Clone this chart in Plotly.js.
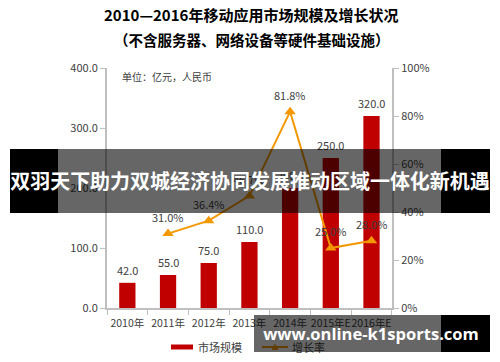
<!DOCTYPE html>
<html>
<head>
<meta charset="utf-8">
<script src="https://cdn.plot.ly/plotly-3.0.1.min.js"></script>
<style>
  html, body { margin: 0; padding: 0; background: #fff; }
  #wrap { position: relative; width: 500px; height: 362px; overflow: hidden; }
  #chart { position: absolute; left: 0; top: 0; width: 500px; height: 362px; }
  .ov { position: absolute; pointer-events: none; }
  .txt { position: absolute; white-space: nowrap; color: #fff; font-weight: bold; text-align: center; }
</style>
</head>
<body>
<div id="wrap">
  <div id="chart"></div>
  <!-- banner overlay -->
  <div class="ov" style="left:10px;top:149px;width:48px;height:64px;background:#000;"></div>
  <div class="ov" style="left:58px;top:149px;width:383px;height:64px;background:rgba(0,0,0,0.6);"></div>
  <div class="ov" style="left:441px;top:149px;width:49px;height:64px;background:#000;"></div>
  <div id="banner" class="ov txt" style="left:0px;top:149px;width:500px;height:64px;line-height:64px;font-size:19px;font-family:'Noto Sans CJK SC',sans-serif;">双羽天下助力双城经济协同发展推动区域一体化新机遇</div>
  <!-- watermark overlay -->
  <div class="ov" style="left:254px;top:315px;width:187px;height:37px;background:rgba(0,0,0,0.6);"></div>
  <div class="ov" style="left:441px;top:315px;width:49px;height:37px;background:#000;"></div>
  <div id="wm" class="ov txt" style="left:254px;top:315px;width:236px;height:37px;line-height:37px;font-size:16.5px;font-family:'Open Sans','DejaVu Sans',sans-serif;">www.online-k1sports.com</div>
</div>
<script>
// ---- data ----
const categories = ['2010年', '2011年', '2012年', '2013年', '2014年', '2015年E', '2016年E'];
const marketSize = [42.0, 55.0, 75.0, 110.0, 200.0, 250.0, 320.0];
const rateCategories = ['2011年', '2012年', '2013年', '2014年', '2015年E', '2016年E'];
const growthRate = [31.0, 36.4, 46.7, 81.8, 25.0, 28.0];
const leftTicks = [0, 100, 200, 300, 400];
const rightTicks = [0, 20, 40, 60, 80, 100];
const titleLine1 = '2010—2016年移动应用市场规模及增长状况';
const titleLine2 = '（不含服务器、网络设备等硬件基础设施）';
const unitNote = '单位：亿元，人民币';
const seriesNames = ['市场规模', '增长率'];

// ---- style ----
const RED = '#C00000';
const ORANGE = '#F39800';
const TXT = '#404040';
const AX = '#BFBFBF';
const FONT = '"Noto Sans CJK SC", "Noto Sans", sans-serif';

// fit overlay texts to the reference widths
function fitText(id, targetWidth) {
  const el = document.getElementById(id);
  const span = document.createElement('span');
  span.textContent = el.textContent;
  el.textContent = '';
  el.appendChild(span);
  const w = span.getBoundingClientRect().width;
  const fs = parseFloat(getComputedStyle(el).fontSize);
  if (w > 0) el.style.fontSize = (fs * targetWidth / w) + 'px';
}
fitText('banner', 480);
fitText('wm', 216);
document.getElementById('wm').style.left = '263px';
document.getElementById('wm').style.width = '216px';

// plot area in pixels
const L = 107, R = 392, T = 68, B = 308;
const px = x => (x - L) / (R - L);
const py = y => (B - y) / (B - T);

const traces = [
  {
    type: 'bar', x: categories, y: marketSize, name: seriesNames[0],
    marker: { color: RED }, width: 0.4, showlegend: false, hoverinfo: 'skip'
  },
  {
    type: 'scatter', mode: 'lines+markers', x: rateCategories, y: growthRate, yaxis: 'y2',
    name: seriesNames[1], line: { color: ORANGE, width: 2 },
    marker: { symbol: 'triangle-up', size: 10, color: ORANGE }, showlegend: false, hoverinfo: 'skip'
  }
];

const annotations = [];
categories.forEach((c, i) => {
  annotations.push({
    x: c, y: marketSize[i], xref: 'x', yref: 'y', text: marketSize[i].toFixed(1),
    showarrow: false, yshift: 13, yanchor: 'middle', font: { family: FONT, size: 11, color: TXT }
  });
});
rateCategories.forEach((c, i) => {
  annotations.push({
    x: c, y: growthRate[i], xref: 'x', yref: 'y2', text: growthRate[i].toFixed(1) + '%',
    showarrow: false, yshift: 17, yanchor: 'middle', font: { family: FONT, size: 11, color: TXT }
  });
});
annotations.push(
  { xref: 'paper', yref: 'paper', x: px(251), y: py(15), text: '<b>' + titleLine1 + '</b>', showarrow: false,
    xanchor: 'center', yanchor: 'middle', font: { family: FONT, size: 15, color: '#000' } },
  { xref: 'paper', yref: 'paper', x: px(252), y: py(40), text: '<b>' + titleLine2 + '</b>', showarrow: false,
    xanchor: 'center', yanchor: 'middle', font: { family: FONT, size: 14.5, color: '#000' } },
  { xref: 'paper', yref: 'paper', x: px(120), y: py(76), text: unitNote, showarrow: false,
    xanchor: 'left', yanchor: 'middle', font: { family: FONT, size: 10, color: TXT } },
  { xref: 'paper', yref: 'paper', x: px(196), y: py(347), text: seriesNames[0], showarrow: false,
    xanchor: 'left', yanchor: 'middle', font: { family: FONT, size: 11, color: TXT } },
  { xref: 'paper', yref: 'paper', x: px(290), y: py(347), text: seriesNames[1], showarrow: false,
    xanchor: 'left', yanchor: 'middle', font: { family: FONT, size: 11, color: TXT } }
);

const shapes = [
  { type: 'rect', xref: 'paper', yref: 'paper', x0: px(171), x1: px(193), y0: py(349.5), y1: py(344.5),
    fillcolor: RED, line: { width: 0 } },
  { type: 'line', xref: 'paper', yref: 'paper', x0: px(262), x1: px(288), y0: py(347), y1: py(347),
    line: { color: ORANGE, width: 2 } },
  { type: 'path', xref: 'paper', yref: 'paper',
    path: `M ${px(271.5)} ${py(350)} L ${px(278.5)} ${py(350)} L ${px(275)} ${py(343.5)} Z`,
    fillcolor: ORANGE, line: { width: 0 } }
];

const layout = {
  width: 500, height: 362,
  margin: { l: L, r: 500 - R, t: T, b: 362 - B, pad: 0 },
  paper_bgcolor: '#fff', plot_bgcolor: '#fff',
  font: { family: FONT, size: 11, color: TXT },
  showlegend: false,
  xaxis: {
    type: 'category', categoryorder: 'array', categoryarray: categories,
    showline: true, linecolor: AX, linewidth: 2, ticks: 'outside', tickson: 'boundaries',
    ticklen: 5, tickcolor: AX, showgrid: false, zeroline: false, tickangle: 0,
    ticklabelstandoff: 4,
    tickfont: { family: FONT, size: 10.5, color: TXT }, fixedrange: true
  },
  yaxis: {
    range: [0, 400], tickvals: leftTicks, ticktext: leftTicks.map(v => v.toFixed(1)),
    showline: true, linecolor: AX, linewidth: 2, ticks: 'outside', ticklen: 5, tickcolor: AX,
    showgrid: false, zeroline: false, tickfont: { family: FONT, size: 11, color: TXT }, fixedrange: true
  },
  yaxis2: {
    overlaying: 'y', side: 'right', range: [0, 100], tickvals: rightTicks,
    ticktext: rightTicks.map(v => v + '%'),
    showline: true, linecolor: AX, linewidth: 2, ticks: 'outside', ticklen: 5, tickcolor: AX,
    showgrid: false, zeroline: false, tickfont: { family: FONT, size: 11, color: TXT }, fixedrange: true
  },
  annotations: annotations,
  shapes: shapes
};

Plotly.newPlot('chart', traces, layout, { displayModeBar: false, staticPlot: true });
</script>
</body>
</html>
